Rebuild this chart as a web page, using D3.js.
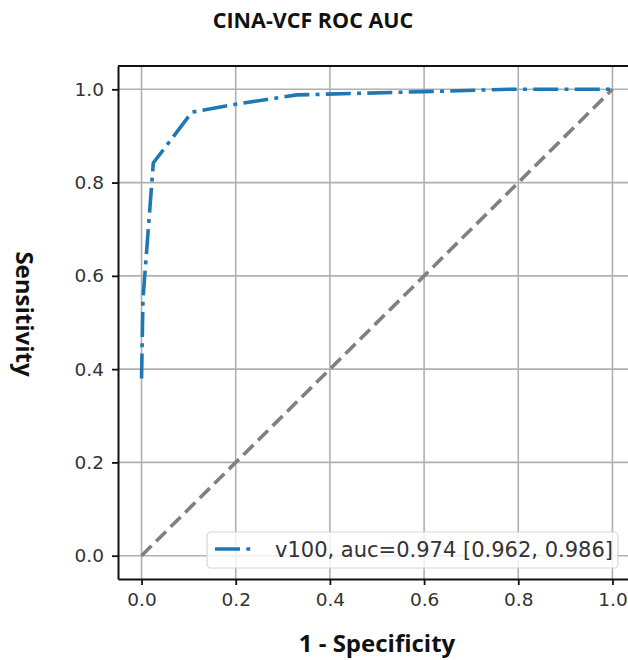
<!DOCTYPE html>
<html>
    <head>
        <meta charset="utf-8">
        <title>CINA-VCF ROC AUC</title>
        <script src="https://cdn.jsdelivr.net/npm/d3@7"></script>
        <style>
            body { margin: 0; background: white; }
        </style>
    </head>
    <body>
        <script type="text/javascript">

            // ROC curve
            var fpr = [0, 0.003, 0.025, 0.107, 0.2, 0.33, 0.6, 0.78, 1.0];
            var tpr = [0.38, 0.55, 0.842, 0.951, 0.968, 0.988, 0.995, 1.0, 1.0];
            var chance = [0, 1];
            var ticks = [0, 0.2, 0.4, 0.6, 0.8, 1.0];
            var legend_label = "v100, auc=0.974 [0.962, 0.986]";

            var svg_width = 628;
            var svg_height = 660;

            var svg = d3.select("body")
                      .append("svg")
                      .attr("width", svg_width)
                      .attr("height", svg_height);

            // plot box, right spine falls outside the picture
            var plot_left = 118, plot_right = 636, plot_top = 66, plot_bottom = 579;

            var xScale = d3.scaleLinear().domain([-0.05, 1.05]).range([plot_left, plot_right]);
            var yScale = d3.scaleLinear().domain([-0.05, 1.05]).range([plot_bottom, plot_top]);

            // grid
            svg.append("g").selectAll("line")
                .data(ticks).enter().append("line")
                .attr("x1", function(d) { return xScale(d); })
                .attr("x2", function(d) { return xScale(d); })
                .attr("y1", plot_top).attr("y2", plot_bottom)
                .attr("stroke", "#b0b0b0").attr("stroke-width", 1.6);
            svg.append("g").selectAll("line")
                .data(ticks).enter().append("line")
                .attr("y1", function(d) { return yScale(d); })
                .attr("y2", function(d) { return yScale(d); })
                .attr("x1", plot_left).attr("x2", plot_right)
                .attr("stroke", "#b0b0b0").attr("stroke-width", 1.6);

            // chance diagonal
            var line = d3.line()
                .x(function(d) { return xScale(d[0]); })
                .y(function(d) { return yScale(d[1]); });

            svg.append("path")
                .datum(chance.map(function(d) { return [d, d]; }))
                .attr("d", line)
                .attr("fill", "none")
                .attr("stroke", "#808080")
                .attr("stroke-width", 3.6)
                .attr("stroke-dasharray", "14,6.5");

            // ROC curve
            svg.append("path")
                .datum(fpr.map(function(d, i) { return [d, tpr[i]]; }))
                .attr("d", line)
                .attr("fill", "none")
                .attr("stroke", "#1f77b4")
                .attr("stroke-width", 3.6)
                .attr("stroke-dasharray", "25,6.3,3.9,6.3");

            // axes (tickSize first, it also sets the outer size)
            var x_axis = svg.append("g")
                .attr("transform", "translate(0," + plot_bottom + ")")
                .call(d3.axisBottom(xScale).tickValues(ticks).tickFormat(d3.format(".1f")).tickSize(6).tickSizeOuter(0).tickPadding(8));
            var y_axis = svg.append("g")
                .attr("transform", "translate(" + plot_left + ",0)")
                .call(d3.axisLeft(yScale).tickValues(ticks).tickFormat(d3.format(".1f")).tickSize(6).tickSizeOuter(0).tickPadding(8));

            [x_axis, y_axis].forEach(function(ax) {
                ax.select(".domain").attr("stroke", "#111").attr("stroke-width", 2);
                ax.selectAll(".tick line").attr("stroke", "#111").attr("stroke-width", 1.8);
                ax.selectAll(".tick text")
                    .attr("font-family", "DejaVu Sans")
                    .attr("font-size", "18.5px")
                    .attr("fill", "#333");
            });

            // top spine
            svg.append("line")
                .attr("x1", plot_left).attr("x2", plot_right)
                .attr("y1", plot_top).attr("y2", plot_top)
                .attr("stroke", "#111").attr("stroke-width", 2);

            // legend
            var legend = svg.append("g").attr("transform", "translate(207,532)");
            legend.append("rect")
                .attr("width", 411).attr("height", 36)
                .attr("rx", 4)
                .attr("fill", "white").attr("fill-opacity", 0.8)
                .attr("stroke", "#d6d6d6").attr("stroke-width", 1.2);
            legend.append("line")
                .attr("x1", 8).attr("x2", 46)
                .attr("y1", 17).attr("y2", 17)
                .attr("stroke", "#1f77b4")
                .attr("stroke-width", 3.6)
                .attr("stroke-dasharray", "25,6.3,3.9,6.3");
            legend.append("text")
                .attr("x", 68).attr("y", 25)
                .attr("font-family", "DejaVu Sans")
                .attr("font-size", "21px")
                .attr("fill", "#333")
                .text(legend_label);

            // titles
            svg.append("text")
                .attr("x", 313).attr("y", 28)
                .attr("text-anchor", "middle")
                .attr("font-family", "Open Sans")
                .attr("font-weight", "bold")
                .attr("font-size", "21.5px")
                .attr("fill", "#111")
                .text("CINA-VCF ROC AUC");

            svg.append("text")
                .attr("x", 377).attr("y", 652)
                .attr("text-anchor", "middle")
                .attr("font-family", "Open Sans")
                .attr("font-weight", "bold")
                .attr("font-size", "24px")
                .attr("fill", "#111")
                .text("1 - Specificity");

            svg.append("text")
                .attr("transform", "translate(16,314) rotate(90)")
                .attr("text-anchor", "middle")
                .attr("font-family", "Open Sans")
                .attr("font-weight", "bold")
                .attr("font-size", "24px")
                .attr("fill", "#111")
                .text("Sensitivity");

        </script>
    </body>
</html>
